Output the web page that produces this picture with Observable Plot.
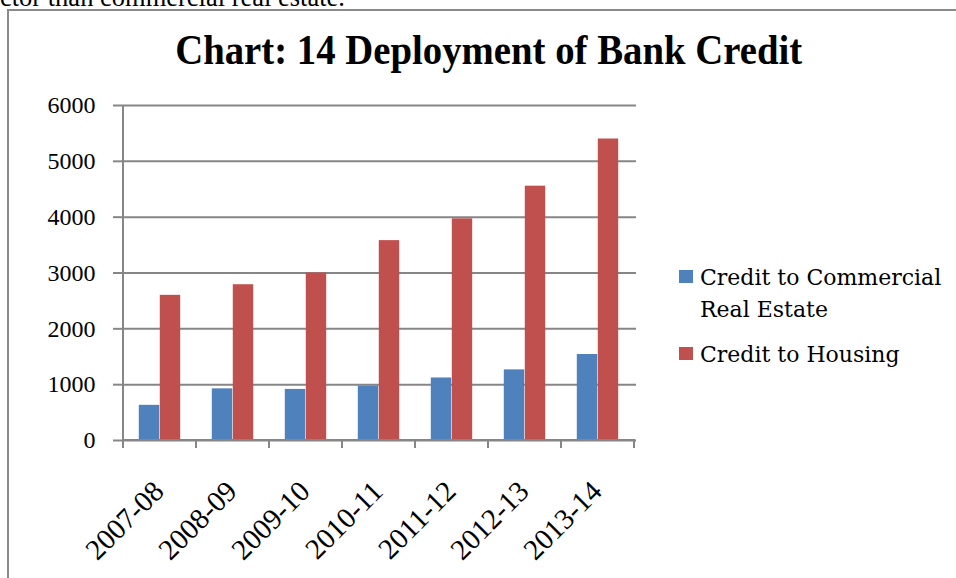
<!DOCTYPE html>
<html><head><meta charset="utf-8">
<script src="https://cdn.jsdelivr.net/npm/d3@7"></script>
<script src="https://cdn.jsdelivr.net/npm/@observablehq/plot@0.6"></script>
<style>
body{margin:0;background:#fff}
#page{position:relative;width:956px;height:578px;overflow:hidden;background:#fff}
.frame{position:absolute;left:7px;top:9px;width:2000px;height:2000px;border-left:2px solid #8a8a8a;border-top:2px solid #8a8a8a}
.cut{position:absolute;right:611px;top:-16.2px;font:26.5px/26.5px "Liberation Serif",serif;white-space:nowrap;color:#000}
.title{position:absolute;left:0;width:977px;top:29.8px;text-align:center;font:bold 41.5px/41.5px "Liberation Serif",serif;color:#000;white-space:nowrap}
.title span{display:inline-block;transform-origin:50% 50%}
#chart{position:absolute;left:0;top:90px}
.leg{position:absolute;left:679px;font:22px/32px "DejaVu Serif",serif;color:#000}
.leg .sw{position:absolute;left:0;width:14px;height:13px}
.leg .tx{position:absolute;left:21px;white-space:nowrap}
</style>
</head><body>
<div id="page">
  <div class="frame"></div>
  <div class="cut">sector than commercial real estate.</div>
  <div class="title"><span id="title"></span></div>
  <div id="chart"></div>
  <div class="leg" id="legend"></div>
</div>
<script>
const chartTitle = "Chart: 14 Deployment of Bank Credit";
const years = ["2007-08", "2008-09", "2009-10", "2010-11", "2011-12", "2012-13", "2013-14"];
const creditCommercialRealEstate = [630, 925, 915, 975, 1120, 1265, 1540];
const creditHousing = [2600, 2790, 3000, 3580, 3970, 4555, 5400];
const seriesNames = ["Credit to Commercial Real Estate", "Credit to Housing"];
const seriesColors = ["#4F81BD", "#C0504D"];
const yTicks = [0, 1000, 2000, 3000, 4000, 5000, 6000];

const table = years.flatMap((year, i) => [
  {year, series: seriesNames[0], value: creditCommercialRealEstate[i]},
  {year, series: seriesNames[1], value: creditHousing[i]}
]);

const W = 956, H = 488;
const mL = 121, mR = 320, mT = 15, mB = 138;
const step = (W - mL - mR) / years.length;
const outer = step * 0.2147, barW = step * 0.2853;
const gray = "#868686";
const labelFont = "'Liberation Serif', serif";

function axisDecor() {
  return (index, scales, values, dims) => {
    const x = scales.x, y = scales.y;
    const st = x(years[1]) - x(years[0]);
    const edges = years.map(d => x(d));
    edges.push(x(years[years.length - 1]) + st);
    const y0 = y(0), yTop = y(yTicks[yTicks.length - 1]);
    const g = d3.create("svg:g").attr("stroke", gray).attr("stroke-width", 2);
    g.append("line").attr("x1", edges[0]).attr("x2", edges[0]).attr("y1", yTop).attr("y2", y0 + 1);
    g.append("line").attr("x1", edges[0] - 1).attr("x2", edges[edges.length - 1] + 1).attr("y1", y0).attr("y2", y0);
    for (const ex of edges) {
      g.append("line").attr("x1", ex).attr("x2", ex).attr("y1", y0).attr("y2", y0 + 8);
    }
    return g.node();
  };
}

const plot = Plot.plot({
  width: W, height: H,
  marginLeft: mL, marginRight: mR, marginTop: mT, marginBottom: mB,
  style: {fontFamily: labelFont, fontSize: "24px", color: "#000", background: "transparent", overflow: "visible"},
  x: {domain: years, padding: 0},
  y: {domain: [0, 6000]},
  marks: [
    Plot.gridY(yTicks, {stroke: gray, strokeOpacity: 1, strokeWidth: 2}),
    Plot.barY(table.filter(d => d.series === seriesNames[0]), {x: "year", y: "value", fill: seriesColors[0], insetLeft: outer, insetRight: step - outer - barW}),
    Plot.barY(table.filter(d => d.series === seriesNames[1]), {x: "year", y: "value", fill: seriesColors[1], insetLeft: outer + barW, insetRight: outer}),
    axisDecor(),
    Plot.axisY({ticks: yTicks, tickSize: 8, tickPadding: 18, stroke: gray, strokeWidth: 2, fontSize: 24, label: null, tickFormat: d => String(d)}),
    Plot.axisX({tickSize: 0, tickRotate: -45, tickPadding: 46, dx: -1, fontSize: 29, label: null})
  ]
});
document.getElementById("chart").appendChild(plot);

const titleEl = document.getElementById("title");
titleEl.textContent = chartTitle;
const tw = titleEl.getBoundingClientRect().width;
if (tw > 0) titleEl.style.transform = `scaleX(${627 / tw})`;

const legendItems = [
  {lines: ["Credit to Commercial", "Real Estate"], color: seriesColors[0], top: 262},
  {lines: ["Credit to Housing"], color: seriesColors[1], top: 339}
];
const leg = document.getElementById("legend");
leg.style.top = "0px";
legendItems.forEach(it => {
  const sw = document.createElement("div");
  sw.className = "sw"; sw.style.background = it.color; sw.style.top = (it.top + 8) + "px";
  leg.appendChild(sw);
  const tx = document.createElement("div");
  tx.className = "tx"; tx.style.top = it.top + "px";
  tx.innerHTML = it.lines.join("<br>");
  leg.appendChild(tx);
});
</script>
</body></html>
